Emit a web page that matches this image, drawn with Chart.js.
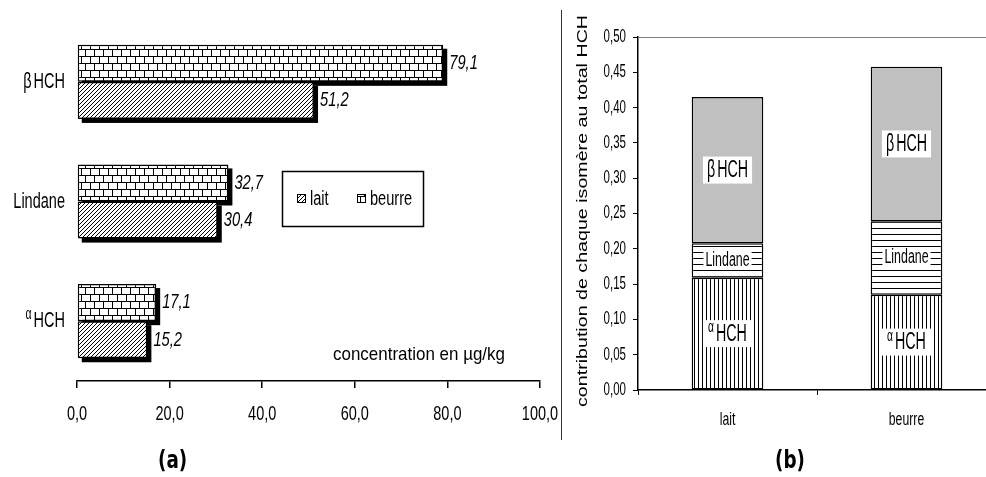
<!DOCTYPE html>
<html>
<head>
<meta charset="utf-8">
<script src="https://cdn.jsdelivr.net/npm/chart.js@4.4.1/dist/chart.umd.min.js"></script>
<style>
  html, body { margin: 0; padding: 0; background: #fff; overflow: hidden; }
  body { width: 986px; height: 477px; position: relative; }
  #left { position: absolute; left: 0; top: 0; }
  #right { position: absolute; left: 562px; top: 0; }
  .sep { position: absolute; left: 561px; top: 10px; width: 0; height: 430px; border-left: 1.5px solid #333; }
  .cap { position: absolute; top: 446px; font: bold 24px "DejaVu Sans Condensed", sans-serif; color: #000; transform: scaleX(0.85); transform-origin: left top; }
</style>
</head>
<body>
<canvas id="left" width="560" height="477"></canvas>
<div class="sep"></div>
<canvas id="right" width="436" height="477"></canvas>
<div class="cap" style="left:158px">(a)</div>
<div class="cap" style="left:775px">(b)</div>

<script>
// (a) concentrations, µg/kg
const isomers = ['β HCH', 'Lindane', 'α HCH'];
const laitConc = [51.2, 30.4, 15.2];
const beurreConc = [79.1, 32.7, 17.1];
const concTicks = [0, 20, 40, 60, 80, 100];

// (b) contribution of each isomer to total HCH
const products = ['lait', 'beurre'];
const alphaShare = [0.159, 0.135];
const lindaneShare = [0.049, 0.104];
const betaShare = [0.207, 0.219];

const SANS = '"Liberation Sans", Arial, sans-serif';

function makePattern(w, h, draw) {
    const c = document.createElement('canvas');
    c.width = w;
    c.height = h;
    const g = c.getContext('2d');
    g.fillStyle = '#fff';
    g.fillRect(0, 0, w, h);
    g.fillStyle = '#000';
    g.strokeStyle = '#000';
    draw(g);
    return g.createPattern(c, 'repeat');
}

const hatch = makePattern(4, 4, function (g) {
    g.lineWidth = 1;
    g.beginPath();
    g.moveTo(0, 4); g.lineTo(4, 0);
    g.moveTo(-1, 1); g.lineTo(1, -1);
    g.moveTo(3, 5); g.lineTo(5, 3);
    g.stroke();
});

const brick = makePattern(9, 14, function (g) {
    g.fillRect(0, 0, 9, 1);
    g.fillRect(0, 7, 9, 1);
    g.fillRect(0, 0, 1, 7);
    g.fillRect(4, 7, 1, 7);
});

const vlines = makePattern(4, 1, function (g) {
    g.fillRect(0, 0, 1, 1);
});

const hlines = makePattern(1, 6, function (g) {
    g.fillRect(0, 0, 1, 1);
});

// narrow text: Arial-like face squeezed horizontally
function txt(ctx, s, x, y, size, sx, align, style) {
    ctx.save();
    ctx.font = (style ? style + ' ' : '') + size + 'px ' + SANS;
    ctx.translate(x, y);
    ctx.scale(sx, 1);
    ctx.textAlign = align || 'left';
    ctx.textBaseline = 'middle';
    ctx.fillStyle = '#000';
    ctx.fillText(s, 0, 0);
    ctx.restore();
}

function txtWidth(ctx, s, size, sx) {
    ctx.save();
    ctx.font = size + 'px ' + SANS;
    const w = ctx.measureText(s).width * sx;
    ctx.restore();
    return w;
}

// "α HCH" style labels, alpha raised and smaller
function drawIsoText(ctx, text, x, y, size, sx, align) {
    const greek = text[0];
    const isGreek = greek === 'α' || greek === 'β';
    const rest = isGreek ? text.slice(1).trim() : text;
    const gSize = greek === 'α' ? size * 0.72 : size;
    const gRaise = greek === 'α' ? size * 0.3 : 0;
    const gw = isGreek ? txtWidth(ctx, greek, gSize, sx) + 2 : 0;
    const total = gw + txtWidth(ctx, rest, size, sx);
    let x0 = x;
    if (align === 'center') x0 = x - total / 2;
    if (align === 'right') x0 = x - total;
    if (isGreek) txt(ctx, greek, x0, y - gRaise, gSize, sx, 'left');
    txt(ctx, rest, x0 + gw, y, size, sx, 'left');
    return total;
}

// ---------- (a) horizontal bars ----------
const leftPlugin = {
    id: 'leftDeco',
    beforeDatasetsDraw(chart) {
        const ctx = chart.ctx;
        ctx.save();
        ctx.fillStyle = '#000';
        chart.data.datasets.forEach(function (ds, i) {
            chart.getDatasetMeta(i).data.forEach(function (bar) {
                const p = bar.getProps(['x', 'y', 'base', 'height'], true);
                const l = Math.min(p.x, p.base), r = Math.max(p.x, p.base);
                ctx.fillRect(l + 4, p.y - p.height / 2 + 4, r - l, p.height);
            });
        });
        ctx.restore();
    },
    afterDatasetsDraw(chart) {
        const ctx = chart.ctx;
        chart.data.datasets.forEach(function (ds, i) {
            chart.getDatasetMeta(i).data.forEach(function (bar, j) {
                const p = bar.getProps(['x', 'y'], true);
                txt(ctx, ds.data[j].toFixed(1).replace('.', ','), p.x + 6, p.y, 21, 0.7, 'left', 'italic');
            });
        });
    },
    afterDraw(chart) {
        const ctx = chart.ctx;
        const ys = chart.scales.y;
        const xs = chart.scales.x;
        isomers.forEach(function (lab, i) {
            drawIsoText(ctx, lab, 65, ys.getPixelForValue(i), 22, 0.66, 'right');
        });
        xs.ticks.forEach(function (t) {
            txt(ctx, t.value.toFixed(1).replace('.', ','), xs.getPixelForValue(t.value), xs.top + 33, 21, 0.69, 'center');
        });
        // legend box
        ctx.save();
        ctx.strokeStyle = '#000';
        ctx.lineWidth = 1.5;
        ctx.strokeRect(282.5, 171.5, 141, 55);
        const items = [chart.data.datasets[1], chart.data.datasets[0]];
        const lx = [297, 357];
        items.forEach(function (ds, k) {
            ctx.fillStyle = ds.backgroundColor;
            ctx.fillRect(lx[k], 194, 9, 9);
            ctx.lineWidth = 1;
            ctx.strokeRect(lx[k] + 0.5, 194.5, 8, 8);
            txt(ctx, ds.label, lx[k] + 13, 199, 20, 0.73, 'left');
        });
        ctx.restore();
        const cap = 'concentration en µg/kg';
        txt(ctx, cap, 419, 355, 19, 172 / txtWidth(ctx, cap, 19, 1), 'center');
    }
};

new Chart(document.getElementById('left'), {
    type: 'bar',
    data: {
        labels: isomers,
        datasets: [
            { label: 'beurre', data: beurreConc, backgroundColor: brick },
            { label: 'lait', data: laitConc, backgroundColor: hatch }
        ]
    },
    options: {
        indexAxis: 'y',
        responsive: false,
        animation: false,
        layout: { padding: { top: 22, right: 20, left: 0, bottom: 0 } },
        datasets: {
            bar: {
                borderColor: '#000',
                borderWidth: 1.5,
                borderSkipped: false,
                categoryPercentage: 0.62,
                barPercentage: 1
            }
        },
        plugins: { legend: { display: false }, tooltip: { enabled: false } },
        scales: {
            x: {
                min: 0,
                max: 100,
                afterBuildTicks: function (s) { s.ticks = concTicks.map(v => ({ value: v })); },
                afterFit: function (s) { s.height = 96; },
                ticks: { display: false },
                grid: { drawOnChartArea: false, tickLength: 7, color: '#000', lineWidth: 1.5 },
                border: { color: '#000', width: 1.5 }
            },
            y: {
                afterFit: function (s) { s.width = 77; },
                ticks: { display: false },
                grid: { display: false },
                border: { display: false }
            }
        }
    },
    plugins: [leftPlugin]
});

// ---------- (b) stacked bars ----------
const rightPlugin = {
    id: 'rightDeco',
    afterDatasetsDraw(chart) {
        const ctx = chart.ctx;
        chart.data.datasets.forEach(function (ds, i) {
            const lind = ds.label === 'Lindane';
            const size = lind ? 20 : 23;
            chart.getDatasetMeta(i).data.forEach(function (bar) {
                const p = bar.getProps(['x', 'y', 'base'], true);
                const cy = (p.y + p.base) / 2;
                const tw = txtWidth(ctx, ds.label.replace(' ', ''), size, 0.62) + 2;
                const padX = lind ? 1 : 4;
                const h = lind ? 18 : 27;
                ctx.save();
                ctx.fillStyle = '#fff';
                ctx.fillRect(p.x - tw / 2 - padX, cy - h / 2, tw + padX * 2, h);
                ctx.restore();
                drawIsoText(ctx, ds.label, p.x, cy + (lind ? 0 : 1), size, 0.62, 'center');
            });
        });
    },
    afterDraw(chart) {
        const ctx = chart.ctx;
        const ys = chart.scales.y;
        const xs = chart.scales.x;
        ys.ticks.forEach(function (t) {
            txt(ctx, t.value.toFixed(2).replace('.', ','), ys.right - 12, ys.getPixelForValue(t.value), 18, 0.64, 'right');
        });
        products.forEach(function (p, i) {
            txt(ctx, p, xs.getPixelForValue(i), xs.top + 30, 18, 0.68, 'center');
        });
        const t = 'contribution de chaque isomère au total HCH';
        ctx.save();
        ctx.translate(21, 211);
        ctx.rotate(-Math.PI / 2);
        ctx.font = '15px ' + SANS;
        const w = ctx.measureText(t).width;
        ctx.scale(392 / w, 1);
        ctx.fillStyle = '#000';
        ctx.textAlign = 'center';
        ctx.textBaseline = 'middle';
        ctx.fillText(t, 0, 0);
        ctx.restore();
    }
};

new Chart(document.getElementById('right'), {
    type: 'bar',
    data: {
        labels: products,
        datasets: [
            { label: 'α HCH', data: alphaShare, backgroundColor: vlines },
            { label: 'Lindane', data: lindaneShare, backgroundColor: hlines },
            { label: 'β HCH', data: betaShare, backgroundColor: '#c0c0c0' }
        ]
    },
    options: {
        responsive: false,
        animation: false,
        layout: { padding: { top: 37, right: 2, left: 0, bottom: 0 } },
        datasets: {
            bar: {
                borderColor: '#000',
                borderWidth: 1.5,
                borderSkipped: false,
                categoryPercentage: 0.4,
                barPercentage: 1
            }
        },
        plugins: { legend: { display: false }, tooltip: { enabled: false } },
        scales: {
            x: {
                stacked: true,
                afterFit: function (s) { s.height = 87; },
                ticks: { display: false },
                grid: { drawOnChartArea: false, tickLength: 5, color: '#000' },
                border: { color: '#000', width: 1.5 }
            },
            y: {
                stacked: true,
                min: 0,
                max: 0.5,
                afterFit: function (s) { s.width = 76; },
                ticks: { display: false, stepSize: 0.05 },
                grid: {
                    tickLength: 5,
                    tickColor: '#000',
                    color: c => (c.tick && Math.abs(c.tick.value - 0.5) < 1e-9) ? '#808080' : 'rgba(0,0,0,0)'
                },
                border: { color: '#000', width: 1.5 }
            }
        }
    },
    plugins: [rightPlugin]
});
</script>
</body>
</html>
